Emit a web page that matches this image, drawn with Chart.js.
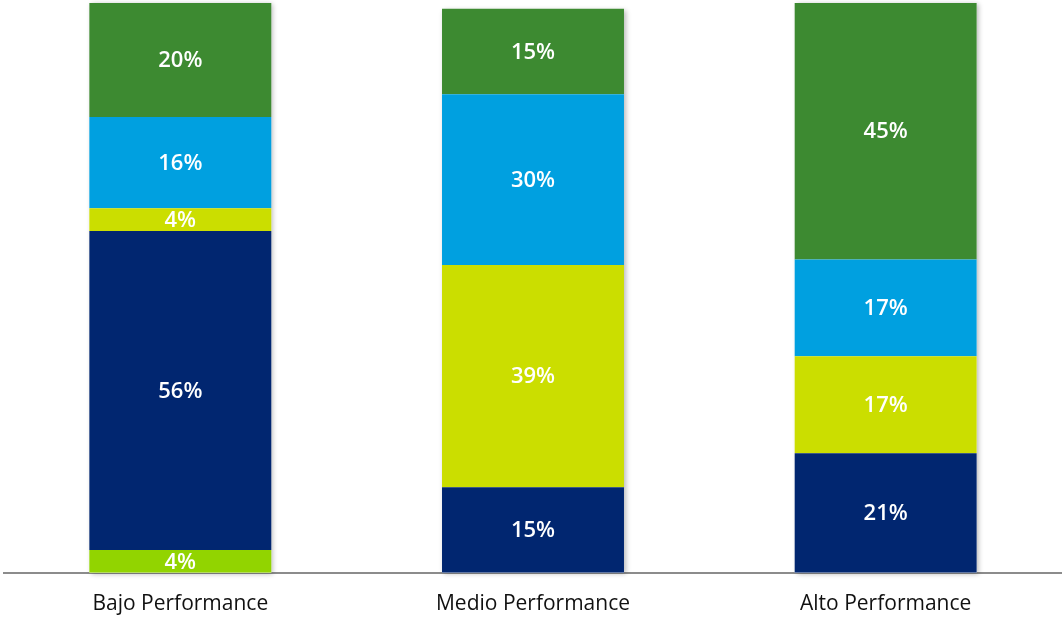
<!DOCTYPE html>
<html>
<head>
<meta charset="utf-8">
<script src="https://cdn.jsdelivr.net/npm/chart.js@4/dist/chart.umd.min.js"></script>
<style>
  html, body { margin: 0; padding: 0; background: #ffffff; }
  #wrap { width: 1062px; height: 617px; position: relative; }
</style>
</head>
<body>
<div id="wrap"><canvas id="chart"></canvas></div>
<script>
// Performance groups on the x axis
const categories = ['Bajo Performance', 'Medio Performance', 'Alto Performance'];

// Share of each segment per group (%), stacked bottom to top
const segLightGreen = [4, 0, 0];
const segNavy       = [56, 15, 21];
const segLime       = [4, 39, 17];
const segBlue       = [16, 30, 17];
const segGreen      = [20, 15, 45];

const colors = {
  lightGreen: '#92d400',
  navy: '#012670',
  lime: '#cbde00',
  blue: '#00a0e0',
  green: '#3d8a31'
};

// Soft shadow behind each full bar stack
const stackShadow = {
  id: 'stackShadow',
  beforeDatasetsDraw(chart) {
    const ctx = chart.ctx;
    const metas = chart.getSortedVisibleDatasetMetas();
    if (!metas.length) return;
    const n = chart.data.labels.length;
    ctx.save();
    ctx.shadowColor = 'rgba(0,0,0,0.28)';
    ctx.shadowBlur = 5;
    ctx.shadowOffsetX = 2;
    ctx.shadowOffsetY = 1;
    ctx.fillStyle = '#ffffff';
    for (let i = 0; i < n; i++) {
      let top = Infinity, bottom = -Infinity, x = 0, w = 0;
      metas.forEach(m => {
        const el = m.data[i];
        if (!el) return;
        const p = el.getProps(['x', 'y', 'base', 'width'], true);
        if (p.base - p.y <= 0) return;
        top = Math.min(top, p.y);
        bottom = Math.max(bottom, p.base);
        x = p.x; w = p.width;
      });
      if (top < bottom) ctx.fillRect(x - w / 2, top, w, bottom - top);
    }
    ctx.restore();
  }
};

// Percentage labels centred in each segment
const segmentLabels = {
  id: 'segmentLabels',
  afterDatasetsDraw(chart) {
    const ctx = chart.ctx;
    ctx.save();
    ctx.fillStyle = '#ffffff';
    ctx.font = '600 22px "Open Sans", "Noto Sans", sans-serif';
    ctx.textAlign = 'center';
    ctx.textBaseline = 'middle';
    chart.data.datasets.forEach((ds, di) => {
      const meta = chart.getDatasetMeta(di);
      meta.data.forEach((el, i) => {
        const v = ds.data[i];
        if (!v) return;
        const p = el.getProps(['x', 'y', 'base'], true);
        ctx.fillText(v + '%', p.x, (p.y + p.base) / 2 + 1);
      });
    });
    ctx.restore();
  }
};

const mk = (label, data, color) => ({
  label, data, backgroundColor: color, borderWidth: 0,
  barPercentage: 1, categoryPercentage: 0.516
});

new Chart(document.getElementById('chart'), {
  type: 'bar',
  data: {
    labels: categories,
    datasets: [
      mk('Segmento 1', segLightGreen, colors.lightGreen),
      mk('Segmento 2', segNavy, colors.navy),
      mk('Segmento 3', segLime, colors.lime),
      mk('Segmento 4', segBlue, colors.blue),
      mk('Segmento 5', segGreen, colors.green)
    ]
  },
  options: {
    responsive: true,
    maintainAspectRatio: false,
    animation: false,
    layout: { padding: { top: 3, left: 4, right: 0, bottom: -19 } },
    plugins: {
      legend: { display: false },
      tooltip: { enabled: false }
    },
    scales: {
      x: {
        stacked: true,
        grid: { display: false, drawTicks: false },
        border: { display: true, color: '#8c8c8c', width: 2 },
        ticks: {
          color: '#111111',
          padding: 19,
          font: { family: '"Open Sans", "Noto Sans", sans-serif', size: 21 }
        }
      },
      y: {
        stacked: true,
        display: false,
        min: 0,
        max: 100
      }
    }
  },
  plugins: [stackShadow, segmentLabels]
});
</script>
</body>
</html>
